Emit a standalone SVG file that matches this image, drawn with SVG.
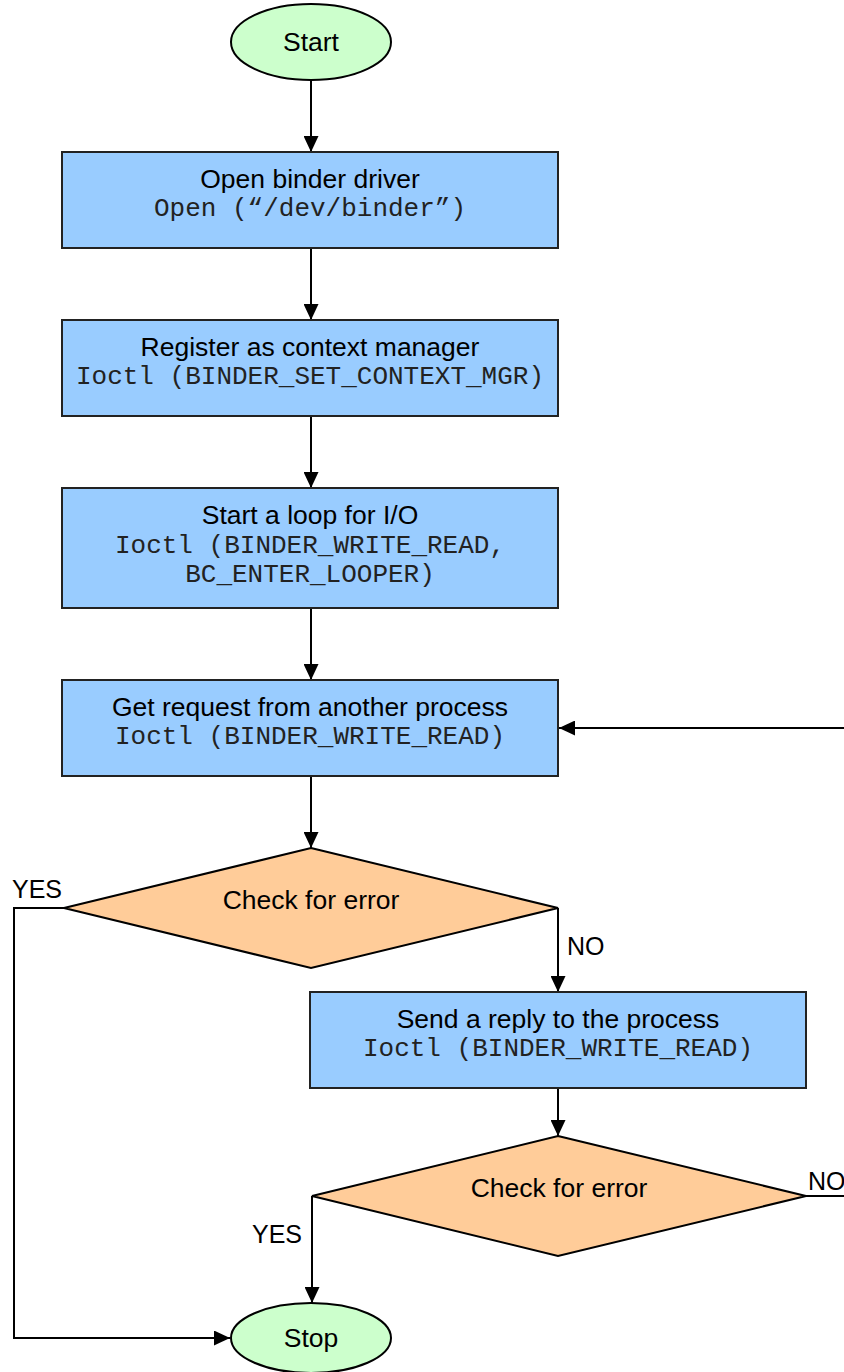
<svg xmlns="http://www.w3.org/2000/svg" width="844" height="1372" viewBox="0 0 844 1372">
  <style>
    .term { fill: #CCFFCC; stroke: #000; stroke-width: 2; }
    .proc { fill: #99CCFF; stroke: #222; stroke-width: 2; }
    .dec  { fill: #FFCC99; stroke: #000; stroke-width: 2; }
    .t    { font-family: "Liberation Sans", Arial, sans-serif; font-size: 26.5px; fill: #000; text-anchor: middle; }
    .m    { font-family: "Liberation Mono", "Courier New", monospace; font-size: 26px; fill: #222; text-anchor: middle; }
    .lbl  { font-family: "Liberation Sans", Arial, sans-serif; font-size: 25px; fill: #000; }
    .edge { fill: none; stroke: #000; stroke-width: 2; }
  </style>
  <defs>
    <marker id="arrow" viewBox="0 0 16 15" refX="16" refY="7.5" markerWidth="16" markerHeight="15" markerUnits="userSpaceOnUse" orient="auto">
      <path d="M0,0 L16,7.5 L0,15 Z" fill="#000"/>
    </marker>
  </defs>

  <g id="connectors">
    <path class="edge" d="M311,80 V152" marker-end="url(#arrow)"/>
    <path class="edge" d="M311,248 V320" marker-end="url(#arrow)"/>
    <path class="edge" d="M311,416 V488" marker-end="url(#arrow)"/>
    <path class="edge" d="M311,608 V680" marker-end="url(#arrow)"/>
    <path class="edge" d="M311,776 V848" marker-end="url(#arrow)"/>
    <path class="edge" d="M558,908 V992" marker-end="url(#arrow)"/>
    <path class="edge" d="M64,908 H14 V1338 H230" marker-end="url(#arrow)"/>
    <path class="edge" d="M558,1088 V1136" marker-end="url(#arrow)"/>
    <path class="edge" d="M312,1196 V1303" marker-end="url(#arrow)"/>
    <path class="edge" d="M806,1196 H852 V728 H559" marker-end="url(#arrow)"/>
    <text class="lbl" x="12" y="898">YES</text>
    <text class="lbl" x="567" y="955">NO</text>
    <text class="lbl" x="808" y="1190">NO</text>
    <text class="lbl" x="252" y="1243">YES</text>
  </g>

  <g id="start">
    <ellipse class="term" cx="311" cy="42" rx="80" ry="38"/>
    <text class="t" x="311" y="51">Start</text>
  </g>

  <g id="open-driver">
    <rect class="proc" x="62" y="152" width="496" height="96"/>
    <text class="t" x="310" y="188">Open binder driver</text>
    <text class="m" x="310" y="216">Open (“/dev/binder”)</text>
  </g>

  <g id="register">
    <rect class="proc" x="62" y="320" width="496" height="96"/>
    <text class="t" x="310" y="356">Register as context manager</text>
    <text class="m" x="310" y="384">Ioctl (BINDER_SET_CONTEXT_MGR)</text>
  </g>

  <g id="loop">
    <rect class="proc" x="62" y="488" width="496" height="120"/>
    <text class="t" x="310" y="524">Start a loop for I/O</text>
    <text class="m" x="310" y="553">Ioctl (BINDER_WRITE_READ,</text>
    <text class="m" x="310" y="582">BC_ENTER_LOOPER)</text>
  </g>

  <g id="get-request">
    <rect class="proc" x="62" y="680" width="496" height="96"/>
    <text class="t" x="310" y="716">Get request from another process</text>
    <text class="m" x="310" y="744">Ioctl (BINDER_WRITE_READ)</text>
  </g>

  <g id="check-1">
    <polygon class="dec" points="311,848 558,908 311,968 64,908"/>
    <text class="t" x="311" y="909">Check for error</text>
  </g>

  <g id="send-reply">
    <rect class="proc" x="310" y="992" width="496" height="96"/>
    <text class="t" x="558" y="1028">Send a reply to the process</text>
    <text class="m" x="558" y="1056">Ioctl (BINDER_WRITE_READ)</text>
  </g>

  <g id="check-2">
    <polygon class="dec" points="558,1136 806,1196 558,1256 312,1196"/>
    <text class="t" x="559" y="1197">Check for error</text>
  </g>

  <g id="stop">
    <ellipse class="term" cx="311" cy="1338" rx="80" ry="35"/>
    <text class="t" x="311" y="1347">Stop</text>
  </g>
</svg>
